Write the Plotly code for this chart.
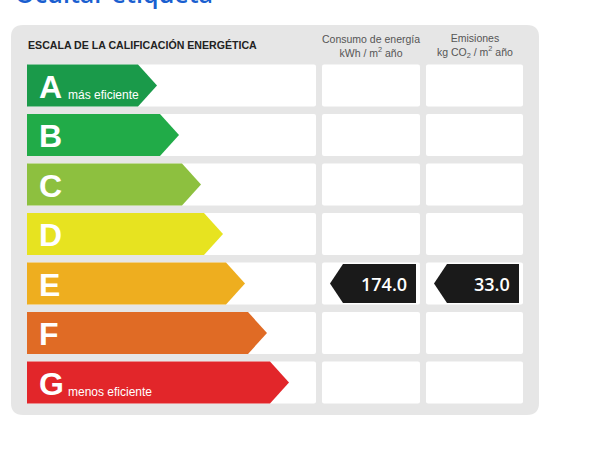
import plotly.graph_objects as go

# ---- data ----
ratings = ["A", "B", "C", "D", "E", "F", "G"]
rating_colors = ["#1a9a4a", "#21ab48", "#8dc03f", "#e7e320", "#eeae1f", "#e06b25", "#e2262a"]
rating_notes = {"A": "más eficiente", "G": "menos eficiente"}
current_rating = "E"
consumo_kwh = 174.0
emisiones_co2 = 33.0
header_title = "ESCALA DE LA CALIFICACIÓN ENERGÉTICA"
col_headers = ["Consumo de energía<br>kWh / m<sup>2</sup> año",
               "Emisiones<br>kg CO<sub>2</sub> / m<sup>2</sup> año"]
page_title = "Ocultar etiqueta"

# ---- layout geometry (pixels) ----
W, H = 600, 450
ROW0, PITCH, RH = 64.5, 49.5, 42
ARROW_L, TIP0, TIP_STEP, DEPTH = 27, 157, 22, 19
COL1 = (27, 316)
COL2 = (322, 420)
COL3 = (426, 523)

fig = go.Figure()
shapes = []
annotations = []


def rrect(x0, y0, x1, y1, r):
    return (f"M{x0+r},{y0} L{x1-r},{y0} Q{x1},{y0} {x1},{y0+r} L{x1},{y1-r} Q{x1},{y1} {x1-r},{y1} "
            f"L{x0+r},{y1} Q{x0},{y1} {x0},{y1-r} L{x0},{y0+r} Q{x0},{y0} {x0+r},{y0} Z")


# panel background
shapes.append(dict(type="path", path=rrect(11, 25, 539, 415, 12), fillcolor="#e6e6e6",
                   line=dict(width=0), layer="below"))

for i, r in enumerate(ratings):
    top = ROW0 + i * PITCH
    bot = top + RH
    for (a, b) in (COL1, COL2, COL3):
        shapes.append(dict(type="path", path=rrect(a, top, b, bot, 2), fillcolor="white",
                           line=dict(width=0), layer="below"))
    tip = TIP0 + i * TIP_STEP
    xs = [ARROW_L, tip - DEPTH, tip, tip - DEPTH, ARROW_L, ARROW_L]
    ys = [top, top, top + RH / 2, bot, bot, top]
    fig.add_trace(go.Scatter(x=xs, y=ys, fill="toself", fillcolor=rating_colors[i],
                             mode="lines", line=dict(width=0, color=rating_colors[i]),
                             hoverinfo="skip", showlegend=False))
    annotations.append(dict(x=37, y=top + RH / 2 + 1, text=f"<b>{r}</b>", showarrow=False,
                            xanchor="left", yanchor="middle",
                            font=dict(family="Liberation Sans, Arial", size=32, color="white")))
    if r in rating_notes:
        annotations.append(dict(x=66, y=top + 30, text=rating_notes[r], showarrow=False,
                                xanchor="left", yanchor="middle",
                                font=dict(family="Liberation Sans, Arial", size=12, color="white")))

# value markers
ri = ratings.index(current_rating)
mtop = ROW0 + ri * PITCH + 1.5
mbot = mtop + RH - 3
for (tipx, leftx, rightx, val) in ((330, 343, 416, consumo_kwh), (434, 447, 519, emisiones_co2)):
    xs = [tipx, leftx, rightx, rightx, leftx, tipx]
    ys = [(mtop + mbot) / 2, mtop, mtop, mbot, mbot, (mtop + mbot) / 2]
    fig.add_trace(go.Scatter(x=xs, y=ys, fill="toself", fillcolor="#1a1a1a", mode="lines",
                             line=dict(width=0, color="#1a1a1a"), hoverinfo="skip",
                             showlegend=False))
    annotations.append(dict(x=rightx - 7, y=(mtop + mbot) / 2, text=f"{val:.1f}", showarrow=False,
                            xanchor="right", yanchor="middle",
                            font=dict(family="Open Sans", size=18, color="white", weight=600)))

# headers
annotations.append(dict(x=26, y=45, text=f"<b>{header_title}</b>", showarrow=False,
                        xanchor="left", yanchor="middle",
                        font=dict(family="Liberation Sans, Arial", size=10.6, color="#222222")))
for (a, b), t in zip((COL2, COL3), col_headers):
    annotations.append(dict(x=(a + b) / 2, y=46, text=t, showarrow=False, xanchor="center",
                            yanchor="middle", align="center",
                            font=dict(family="Liberation Sans, Arial", size=10.5, color="#555555")))

annotations.append(dict(x=13, y=12, text=page_title, showarrow=False, xanchor="left",
                        yanchor="bottom",
                        font=dict(family="Open Sans", size=25, color="#1a5fd0", weight=600)))

fig.update_layout(
    width=W, height=H, margin=dict(l=0, r=0, t=0, b=0),
    paper_bgcolor="white", plot_bgcolor="white",
    xaxis=dict(range=[0, W], visible=False, fixedrange=True),
    yaxis=dict(range=[H, 0], visible=False, fixedrange=True),
    shapes=shapes, annotations=annotations,
)
fig.write_html("out.html", config={"displayModeBar": False, "staticPlot": True},
               post_script="document.body.style.margin='0';")
